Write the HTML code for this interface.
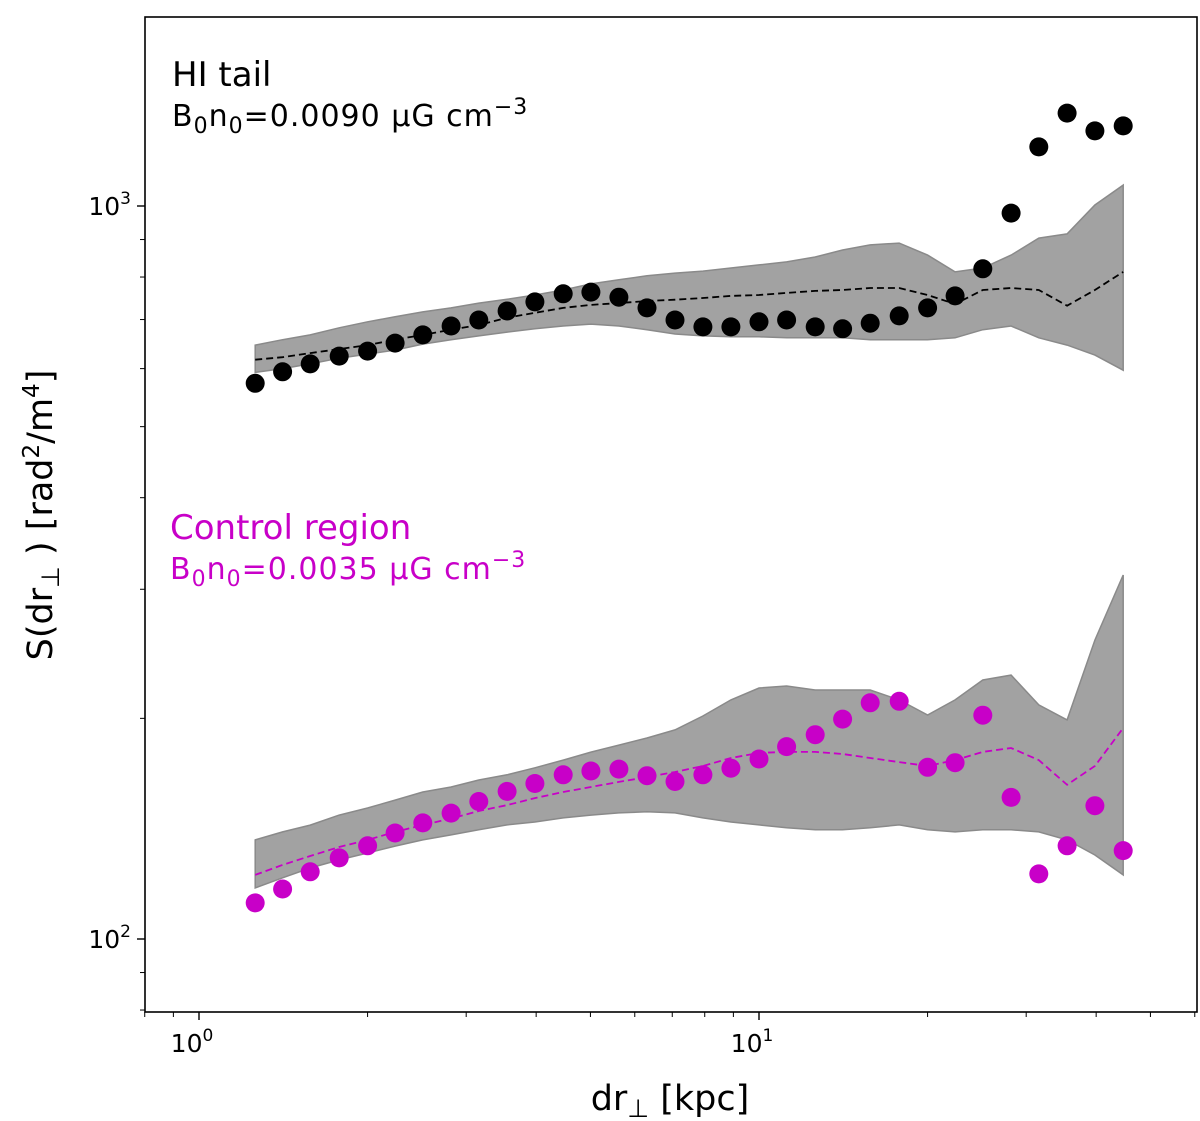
<!DOCTYPE html>
<html><head><meta charset="utf-8"><style>
html,body{margin:0;padding:0;background:#fff;}
svg{display:block;font-family:"DejaVu Sans","Liberation Sans",sans-serif;}
</style></head><body>
<svg id="chart" width="1200" height="1121" viewBox="0 0 1200 1121">
<g id="bands"></g>
<g id="means"></g>
<g id="dots"></g>
<rect x="145" y="17" width="1052" height="995" fill="none" stroke="#000" stroke-width="1.6"/>
<g id="axes"></g>
<text x="172" y="86" font-size="34" fill="#000">HI tail</text>
<text x="172" y="126" font-size="30" letter-spacing="1" fill="#000">B<tspan font-size="22" dy="7">0</tspan><tspan dy="-7">n</tspan><tspan font-size="22" dy="7">0</tspan><tspan dy="-7">=0.0090 µG cm</tspan><tspan font-size="22" dy="-12">−3</tspan></text>
<text x="170" y="539" font-size="34" fill="#c800c8">Control region</text>
<text x="170" y="579" font-size="30" letter-spacing="1" fill="#c800c8">B<tspan font-size="22" dy="7">0</tspan><tspan dy="-7">n</tspan><tspan font-size="22" dy="7">0</tspan><tspan dy="-7">=0.0035 µG cm</tspan><tspan font-size="22" dy="-12">−3</tspan></text>
<text transform="translate(52,515) rotate(-90)" text-anchor="middle" font-size="35" fill="#000">S(dr<tspan font-size="25" dy="7">⊥</tspan><tspan dy="-7"> ) [rad</tspan><tspan font-size="23" dy="-13">2</tspan><tspan dy="13">/m</tspan><tspan font-size="23" dy="-13">4</tspan><tspan dy="13">]</tspan></text>
<text x="670" y="1110" text-anchor="middle" font-size="35" fill="#000">dr<tspan font-size="25" dy="7">⊥</tspan><tspan dy="-7">  [kpc]</tspan></text>
</svg>
<script>
const xValues=[1.26,1.41,1.58,1.78,2.00,2.24,2.51,2.82,3.16,3.55,3.98,4.47,5.01,5.62,6.31,7.08,7.94,8.91,10.0,11.2,12.6,14.1,15.8,17.8,20.0,22.4,25.1,28.2,31.6,35.5,39.8,44.7];
const hiObs=[573,594,609,624,634,650,667,686,699,719,740,759,763,751,726,699,684,684,695,699,684,680,692,708,726,754,821,978,1204,1339,1266,1286];
const hiMean=[617,622,630,638,646,657,667,678,688,704,715,726,733,737,742,745,749,754,756,761,766,768,773,773,756,735,768,773,768,731,768,813];
const hiUpper=[646,657,667,682,695,706,717,726,737,746,756,768,783,793,803,810,815,823,831,839,852,871,885,890,857,813,823,857,904,916,1003,1068];
const hiLower=[593,600,609,620,628,636,648,657,665,673,680,686,690,686,678,669,665,663,663,661,661,661,657,657,657,661,678,686,661,646,626,597];
const ctlObs=[112,117,123.5,129,134,139.5,144,148.5,154,159,163,167.5,169.5,170.5,167,164,167.5,171,176,183,190,199.5,210,211,171.5,174,202,156,122.7,134,152,132];
const ctlMean=[122.3,126.2,129.8,133.5,136.5,140,143,146,149.5,152.3,155.7,158.7,161.2,163.8,166.3,169,172.2,176.6,179.4,180,180,178.8,176.6,174.3,172.2,175.4,180,182.2,175.4,162.3,172.2,194];
const ctlUpper=[136.5,140,143,147.6,150.9,154.7,158.7,161.2,164.8,167.5,171.2,175.4,179.9,183.9,188,192.9,201.5,211.9,220,221.4,218.6,218.6,218.6,211.9,202.1,211.9,225.6,229.1,208.6,199,255.7,313.8];
const ctlLower=[117.4,121.2,125,128.2,131,133.9,136.5,138.7,140.9,143.1,144.4,146.3,147.6,148.6,149.1,148.6,146.3,144.4,143.1,141.8,140.9,140.9,141.8,143.1,140.9,140,140.9,140.9,140,136.5,130.2,122.3];
const xMajor=[1,10];
const xMajorLabels=["0","1"];
const xMinor=[0.8,0.9,2,3,4,5,6,7,8,9,20,30,40,50,60];
const yMajor=[100,1000];
const yMajorLabels=["2","3"];
const yMinor=[80,90,200,300,400,500,600,700,800,900];

const NS="http://www.w3.org/2000/svg";
const X0=199,XD=560,Y3=206,YD=733;
function sx(v){return X0+Math.log10(v)*XD;}
function sy(v){return Y3-(Math.log10(v)-3)*YD;}
function mk(tag,attrs,parent){const e=document.createElementNS(NS,tag);for(const k in attrs)e.setAttribute(k,attrs[k]);parent.appendChild(e);return e;}
const bands=document.getElementById('bands'),means=document.getElementById('means'),dots=document.getElementById('dots'),axes=document.getElementById('axes');

function band(up,lo,name){
  let d='';
  up.forEach((v,i)=>{d+=(i?'L':'M')+sx(xValues[i]).toFixed(1)+','+sy(v).toFixed(1);});
  for(let i=lo.length-1;i>=0;i--)d+='L'+sx(xValues[i]).toFixed(1)+','+sy(lo[i]).toFixed(1);
  const p=mk('path',{d:d+'Z',fill:'#a2a2a2',stroke:'#8a8a8a',"stroke-width":1.5},bands);
  
  
}
band(hiUpper,hiLower,'hi-tail-ensemble');
band(ctlUpper,ctlLower,'control-ensemble');

function line(arr,color,name){
  const pts=arr.map((v,i)=>sx(xValues[i]).toFixed(1)+','+sy(v).toFixed(1)).join(' ');
  const p=mk('polyline',{points:pts,fill:'none',stroke:color,"stroke-width":1.8,"stroke-dasharray":"7,4"},means);
  
  
}
line(hiMean,'#000','hi-tail-mean-line');
line(ctlMean,'#c800c8','control-mean-line');

function pts(arr,color,name){
  arr.forEach((v,i)=>{
    const c=mk('circle',{cx:sx(xValues[i]).toFixed(1),cy:sy(v).toFixed(1),r:9.5,fill:color},dots);
    
    
  });
}
pts(hiObs,'#000','hi-tail-point');
pts(ctlObs,'#c800c8','control-point');

xMajor.forEach((v,i)=>{
  const x=sx(v);
  const t=mk('line',{x1:x,x2:x,y1:1012,y2:1020,stroke:'#000',"stroke-width":1.4},axes);
  
  
  const tx=mk('text',{x:x-7,y:1052,"text-anchor":"middle","font-size":25},axes);
  
  
  tx.innerHTML='10<tspan font-size="17" dy="-11">'+xMajorLabels[i]+'</tspan>';
});
xMinor.forEach(v=>{
  const x=sx(v);
  const t=mk('line',{x1:x,x2:x,y1:1012,y2:1017,stroke:'#000',"stroke-width":1},axes);
  
  
});
yMajor.forEach((v,i)=>{
  const y=sy(v);
  const t=mk('line',{x1:137,x2:145,y1:y,y2:y,stroke:'#000',"stroke-width":1.4},axes);
  
  
  const tx=mk('text',{x:131,y:y+9,"text-anchor":"end","font-size":25},axes);
  
  
  tx.innerHTML='10<tspan font-size="17" dy="-11">'+yMajorLabels[i]+'</tspan>';
});
yMinor.forEach(v=>{
  const y=sy(v);
  const t=mk('line',{x1:140,x2:145,y1:y,y2:y,stroke:'#000',"stroke-width":1},axes);
  
  
});
</script>
</body></html>
